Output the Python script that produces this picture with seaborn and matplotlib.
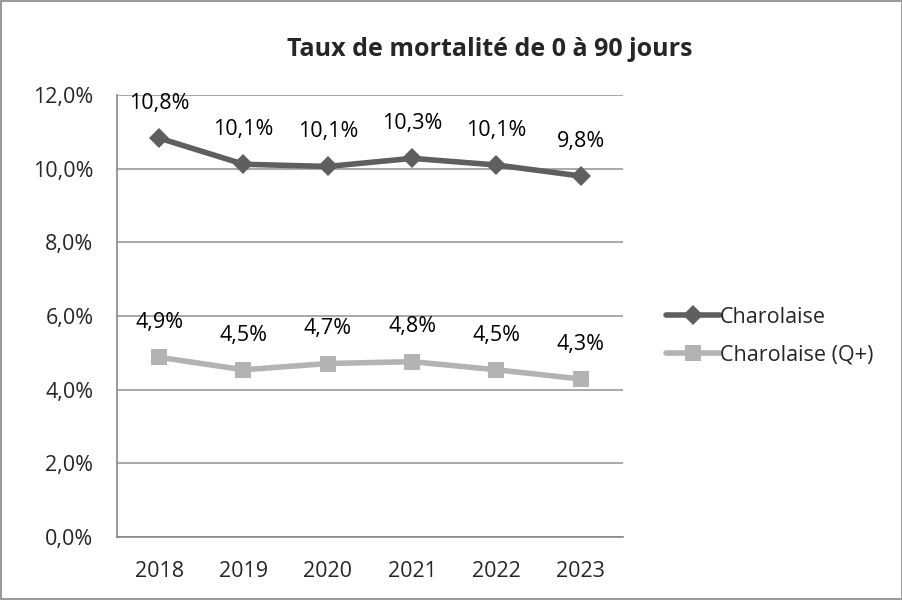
import matplotlib
matplotlib.use('Agg')
import matplotlib.pyplot as plt
import seaborn as sns
import pandas as pd
from matplotlib.ticker import FuncFormatter, MultipleLocator

years = ['2018', '2019', '2020', '2021', '2022', '2023']
charolaise = [10.83, 10.12, 10.06, 10.28, 10.10, 9.80]
charolaise_q = [4.88, 4.54, 4.71, 4.76, 4.54, 4.29]
series_names = ['Charolaise', 'Charolaise (Q+)']
title = 'Taux de mortalité de 0 à 90 jours'

df = pd.DataFrame({
    'year': years * 2,
    'value': charolaise + charolaise_q,
    'serie': [series_names[0]] * len(years) + [series_names[1]] * len(years),
})

sns.set_theme(style='white')
plt.rcParams['font.family'] = ['Open Sans', 'DejaVu Sans']

fig = plt.figure(figsize=(9.03, 6.0), dpi=100)
ax = fig.add_axes([117 / 903, 1 - 537 / 600, (623 - 117) / 903, (537 - 95) / 600])

palette = {series_names[0]: '#5f5f5f', series_names[1]: '#b3b3b3'}
markers = {series_names[0]: 'D', series_names[1]: 's'}
sizes = {series_names[0]: 10, series_names[1]: 11}
fs = 15.5

for name in series_names:
    sub = df[df['serie'] == name]
    sns.lineplot(data=sub, x='year', y='value', ax=ax, color=palette[name],
                 linewidth=4, marker=markers[name], markersize=sizes[name],
                 markeredgewidth=0, label=name, sort=False)
    for i, v in enumerate(sub['value']):
        ax.annotate(f'{v:.1f}%'.replace('.', ','), (i, v), xytext=(0, 25),
                    textcoords='offset points', ha='center', va='center',
                    fontsize=fs, color='black')

ax.set_xlim(-0.5, len(years) - 0.5)
ax.set_ylim(0, 12)
ax.yaxis.set_major_locator(MultipleLocator(2))
ax.yaxis.set_major_formatter(FuncFormatter(lambda v, p: f'{v:.1f}%'.replace('.', ',')))
ax.grid(axis='y', color='#999999', linewidth=1.2)
ax.set_axisbelow(True)
ax.set_xlabel('')
ax.set_ylabel('')

# tick marks between categories, labels centred
ax.set_xticks([i - 0.5 for i in range(len(years) + 1)], minor=False)
ax.set_xticklabels([''] * (len(years) + 1))
ax.set_xticks(range(len(years)), minor=True)
ax.set_xticklabels(years, minor=True)
ax.tick_params(axis='x', which='major', direction='out', length=5, color='#888888', width=1)
ax.tick_params(axis='x', which='minor', length=0, pad=17, labelsize=fs)
ax.tick_params(axis='y', direction='out', length=7, color='#888888', width=1,
               labelsize=fs, pad=10)

for side in ['top', 'right']:
    ax.spines[side].set_visible(False)
for side in ['left', 'bottom']:
    ax.spines[side].set_color('#888888')
    ax.spines[side].set_linewidth(1.2)

fig.text(490 / 903, 1 - 50 / 600, title, ha='center', va='center',
         fontsize=18, fontweight='bold')

handles, labels = ax.get_legend_handles_labels()
ax.legend(handles, labels, loc='center left', bbox_to_anchor=(647 / 903, 1 - 336 / 600),
          bbox_transform=fig.transFigure, frameon=False, fontsize=fs,
          handlelength=2.5, handletextpad=0.0, labelspacing=0.75)

fig.patches.append(plt.Rectangle((0.001, 0.001), 0.998, 0.998, transform=fig.transFigure,
                                 fill=False, edgecolor='#888888', linewidth=1.2))

fig.savefig('out.png', dpi=100)
